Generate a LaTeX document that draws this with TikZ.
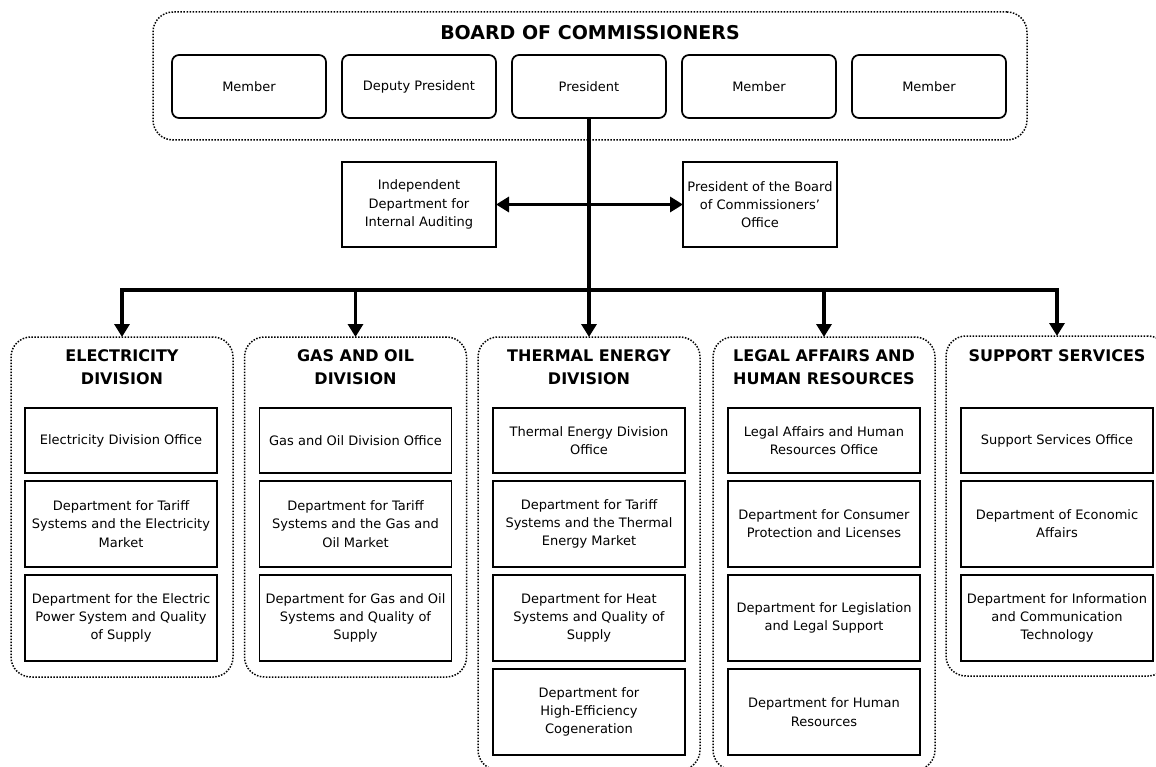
\documentclass[tikz,border=0pt]{standalone}
\usepackage{fontspec}
\setmainfont{DejaVu Sans}
\usetikzlibrary{arrows.meta, positioning}

\begin{document}
\begin{tikzpicture}[
    x=1pt, y=-1pt,
    every node/.style={font=\fontsize{13}{18.3}\selectfont, outer sep=0pt},
    group/.style={draw, line width=1.5pt, dash pattern=on 1.5pt off 1.5pt, rounded corners=20pt},
    title/.style={font=\fontsize{16}{22.5}\selectfont\bfseries, align=center},
    member/.style={draw, line width=1.7pt, rounded corners=7pt, minimum width=154pt, minimum height=63pt},
    office/.style={draw, line width=1.7pt, minimum width=154pt, minimum height=85pt, align=center},
    unit/.style={draw, line width=1.7pt, minimum width=192pt, minimum height=86pt, align=center, inner sep=2pt},
    link/.style={line width=3.5pt},
    arrow/.style={line width=3.5pt, -{Triangle[length=13pt, width=15pt]}},
]
\useasboundingbox (0,0) rectangle (1156,767);
\clip (0,0) rectangle (1156,767);

% Board
\node[group, minimum width=874pt, minimum height=128pt] (board) at (590,76) {};
\node[font=\fontsize{19}{23}\selectfont\bfseries] (boardt) at (590,33) {BOARD OF COMMISSIONERS};
\node[member] (mem1) at (249,86.5) {Member};
\node[member] (vicepres) at (419,86.5) {Deputy President};
\node[member] (pres) at (589,86.5) {President};
\node[member] (mem2) at (759,86.5) {Member};
\node[member] (mem3) at (929,86.5) {Member};

% Offices next to the president
\node[office] (audit) at (419,204.5) {Independent\\Department for\\Internal Auditing};
\node[office] (presoff) at (760,204.5) {President of the Board\\of Commissioners'\\Office};
\coordinate (hub) at (589,290);

% Divisions
\node[group, minimum width=222pt, minimum height=340pt] (elec) at (122,507) {};
\node[group, minimum width=222pt, minimum height=340pt] (gas) at (355.5,507) {};
\node[group, minimum width=222pt, minimum height=433pt] (therm) at (589,553.5) {};
\node[group, minimum width=222pt, minimum height=433pt] (legal) at (824,553.5) {};
\node[group, minimum width=222pt, minimum height=340pt] (supp) at (1057,506) {};

\node[title] (elect) at (122,367) {ELECTRICITY\\DIVISION};
\node[title] (gast) at (355.5,367) {GAS AND OIL\\DIVISION};
\node[title] (thermt) at (589,367) {THERMAL ENERGY\\DIVISION};
\node[title] (legalt) at (824,367) {LEGAL AFFAIRS AND\\HUMAN RESOURCES};
\node[title] (suppt) at (1057,356) {SUPPORT SERVICES};

% Electricity
\node[unit, minimum height=65pt] (elec1) at (121,440.5) {Electricity Division Office};
\node[unit, below=8pt of elec1] (elec2) {Department for Tariff\\Systems and the Electricity\\Market};
\node[unit, below=8pt of elec2] (elec3) {Department for the Electric\\Power System and Quality\\of Supply};

% Gas and oil
\node[unit, minimum height=65pt] (gas1) at (355.5,440.5) {Gas and Oil Division Office};
\node[unit, below=8pt of gas1] (gas2) {Department for Tariff\\Systems and the Gas and\\Oil Market};
\node[unit, below=8pt of gas2] (gas3) {Department for Gas and Oil\\Systems and Quality of\\Supply};

% Thermal energy
\node[unit, minimum height=65pt] (therm1) at (589,440.5) {Thermal Energy Division\\Office};
\node[unit, below=8pt of therm1] (therm2) {Department for Tariff\\Systems and the Thermal\\Energy Market};
\node[unit, below=8pt of therm2] (therm3) {Department for Heat\\Systems and Quality of\\Supply};
\node[unit, below=8pt of therm3] (therm4) {Department for\\High-Efficiency\\Cogeneration};

% Legal affairs
\node[unit, minimum height=65pt] (legal1) at (824,440.5) {Legal Affairs and Human\\Resources Office};
\node[unit, below=8pt of legal1] (legal2) {Department for Consumer\\Protection and Licenses};
\node[unit, below=8pt of legal2] (legal3) {Department for Legislation\\and Legal Support};
\node[unit, below=8pt of legal3] (legal4) {Department for Human\\Resources};

% Support services
\node[unit, minimum height=65pt] (supp1) at (1057,440.5) {Support Services Office};
\node[unit, below=8pt of supp1] (supp2) {Department of Economic\\Affairs};
\node[unit, below=8pt of supp2] (supp3) {Department for Information\\and Communication\\Technology};

% Arrows
\draw[link] (pres) -- (hub);
\draw[link, {Triangle[length=13pt, width=15pt]}-{Triangle[length=13pt, width=15pt]}] (audit) -- (presoff);
\draw[arrow] (hub) -| (elec.north);
\draw[arrow] (hub) -| (gas.north);
\draw[arrow] (hub) -- (therm.north);
\draw[arrow] (hub) -| (legal.north);
\draw[arrow] (hub) -| (supp.north);

\end{tikzpicture}
\end{document}
